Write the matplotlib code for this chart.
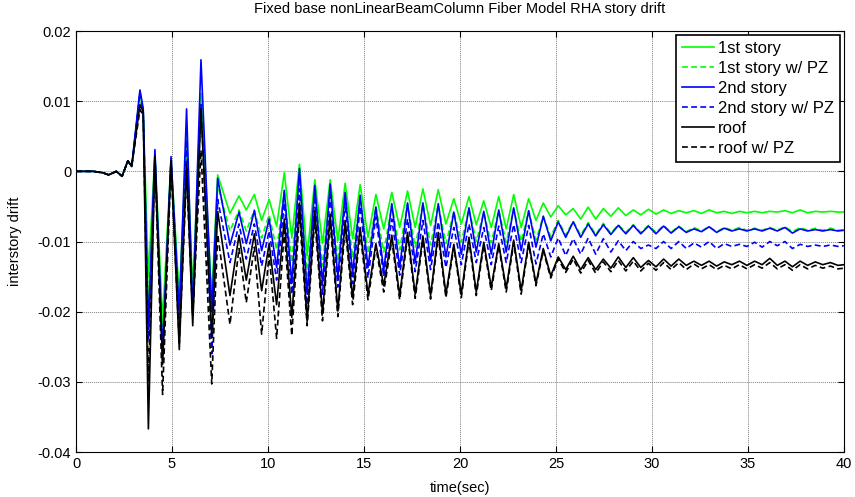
import matplotlib
matplotlib.use("Agg")
import matplotlib.pyplot as plt

plt.rcParams["font.family"] = ["Liberation Sans", "DejaVu Sans"]
plt.rcParams["axes.unicode_minus"] = False

# ---- time instants (s): irregular start, then alternating peak / trough ----
T_EARLY = [0, 0.9, 1.4, 1.7, 2.1, 2.4, 2.7, 2.9, 3.33, 3.5, 3.77, 4.11,
           4.51, 4.95, 5.38, 5.76, 6.08, 6.51, 7.07]
T_PK = [7.38, 8.49, 9.29, 10.06, 10.85, 11.64, 12.44, 13.24, 14.02, 14.80,
        15.62, 16.45, 17.27, 18.07, 18.87, 19.68, 20.47, 21.24, 22.02, 22.80,
        23.58, 24.34, 25.12, 25.90, 26.68, 27.47, 28.25, 29.03, 29.82, 30.61,
        31.40, 32.19, 32.98, 33.77, 34.56, 35.35, 36.14, 36.93, 37.72, 38.51,
        39.30]
T_TR = [8.02, 8.87, 9.67, 10.45, 11.24, 12.04, 12.84, 13.64, 14.41, 15.21,
        16.03, 16.86, 17.67, 18.47, 19.27, 20.07, 20.85, 21.63, 22.41, 23.19,
        23.96, 24.73, 25.51, 26.29, 27.07, 27.86, 28.64, 29.42, 30.21, 31.00,
        31.79, 32.58, 33.37, 34.16, 34.95, 35.74, 36.53, 37.32, 38.11, 38.90,
        39.69]
T_END = 40.0

PRE = [0, 0, -0.0002, -0.0005, 0.0, -0.0007, 0.0015, 0.0007]

# ---- 1st story ----
S1_EARLY = PRE + [0.0111, 0.0085, -0.0150, 0.0025, -0.0213, 0.0018, -0.0180,
                  0.0050, -0.0170, 0.0111, -0.0180]
S1_PK = [-0.0005, -0.0035, -0.0033, -0.0040, -0.0002, 0.0010, -0.0012, -0.0012,
         -0.0017, -0.0019, -0.0033, -0.0030, -0.0028, -0.0025, -0.0026, -0.0039,
         -0.0036, -0.0042, -0.0036, -0.0033, -0.0039, -0.0045, -0.0049, -0.0053,
         -0.0051, -0.0053, -0.0052, -0.0055, -0.0054, -0.0055, -0.0056, -0.0056,
         -0.0055, -0.0057, -0.0057, -0.0057, -0.0057, -0.0056, -0.0055, -0.0057,
         -0.0057]
S1_TR = [-0.0060, -0.0055, -0.0070, -0.0078, -0.0095, -0.0120, -0.0103, -0.0099,
         -0.0096, -0.0094, -0.0082, -0.0080, -0.0080, -0.0077, -0.0075, -0.0075,
         -0.0076, -0.0080, -0.0082, -0.0080, -0.0070, -0.0065, -0.0062, -0.0068,
         -0.0068, -0.0064, -0.0063, -0.0062, -0.0061, -0.0060, -0.0059, -0.0060,
         -0.0059, -0.0060, -0.0059, -0.0059, -0.0058, -0.0059, -0.0059, -0.0058,
         -0.0058]
S1_END = -0.0058

# ---- 1st story w/ PZ ----
S1PZ_EARLY = PRE + [0.0105, 0.0080, -0.0190, 0.0020, -0.0230, 0.0015, -0.0190,
                    0.0040, -0.0180, 0.0090, -0.0210]
S1PZ_PK = [-0.0020, -0.0055, -0.0055, -0.0062, -0.0030, -0.0005, -0.0025, -0.0025,
           -0.0033, -0.0037, -0.0050, -0.0048, -0.0047, -0.0046, -0.0048, -0.0057,
           -0.0054, -0.0058, -0.0056, -0.0054, -0.0057, -0.0064, -0.0070, -0.0071,
           -0.0073, -0.0074, -0.0076, -0.0076, -0.0077, -0.0077, -0.0078, -0.0080,
           -0.0079, -0.0080, -0.0080, -0.0081, -0.0080, -0.0079, -0.0080, -0.0081,
           -0.0081]
S1PZ_TR = [-0.0085, -0.0085, -0.0095, -0.0112, -0.0130, -0.0148, -0.0135, -0.0128,
           -0.0123, -0.0117, -0.0115, -0.0112, -0.0108, -0.0105, -0.0103, -0.0101,
           -0.0100, -0.0102, -0.0101, -0.0100, -0.0098, -0.0093, -0.0091, -0.0091,
           -0.0090, -0.0088, -0.0087, -0.0087, -0.0087, -0.0087, -0.0086, -0.0085,
           -0.0086, -0.0084, -0.0084, -0.0084, -0.0084, -0.0086, -0.0084, -0.0084,
           -0.0084]
S1PZ_END = -0.0083

# ---- 2nd story ----
S2_EARLY = PRE + [0.0116, 0.0090, -0.0225, 0.0031, -0.0256, 0.0021, -0.0204,
                  0.0089, -0.0204, 0.0159, -0.0200]
S2_PK = [-0.0010, -0.0058, -0.0056, -0.0068, -0.0027, 0.0004, -0.0020, -0.0018,
         -0.0030, -0.0034, -0.0051, -0.0046, -0.0045, -0.0045, -0.0046, -0.0058,
         -0.0052, -0.0057, -0.0055, -0.0052, -0.0056, -0.0064, -0.0072, -0.0072,
         -0.0075, -0.0076, -0.0077, -0.0077, -0.0078, -0.0078, -0.0079, -0.0082,
         -0.0079, -0.0081, -0.0082, -0.0082, -0.0081, -0.0080, -0.0082, -0.0083,
         -0.0083]
S2_TR = [-0.0105, -0.0103, -0.0113, -0.0137, -0.0160, -0.0175, -0.0160, -0.0151,
         -0.0146, -0.0137, -0.0141, -0.0137, -0.0130, -0.0127, -0.0122, -0.0118,
         -0.0115, -0.0118, -0.0115, -0.0113, -0.0108, -0.0099, -0.0094, -0.0094,
         -0.0092, -0.0090, -0.0089, -0.0089, -0.0089, -0.0088, -0.0087, -0.0086,
         -0.0087, -0.0085, -0.0085, -0.0085, -0.0085, -0.0088, -0.0085, -0.0085,
         -0.0085]
S2_END = -0.0084

# ---- 2nd story w/ PZ ----
S2PZ_EARLY = PRE + [0.0112, 0.0085, -0.0240, 0.0022, -0.0270, 0.0016, -0.0215,
                    0.0045, -0.0205, 0.0095, -0.0260]
S2PZ_PK = [-0.0040, -0.0075, -0.0075, -0.0085, -0.0045, -0.0025, -0.0035, -0.0035,
           -0.0045, -0.0050, -0.0065, -0.0068, -0.0068, -0.0070, -0.0072, -0.0080,
           -0.0075, -0.0080, -0.0078, -0.0076, -0.0077, -0.0089, -0.0095, -0.0096,
           -0.0095, -0.0096, -0.0099, -0.0100, -0.0105, -0.0100, -0.0100, -0.0102,
           -0.0100, -0.0103, -0.0104, -0.0101, -0.0100, -0.0100, -0.0104, -0.0105,
           -0.0105]
S2PZ_TR = [-0.0130, -0.0125, -0.0135, -0.0155, -0.0175, -0.0190, -0.0175, -0.0165,
           -0.0160, -0.0152, -0.0150, -0.0148, -0.0143, -0.0140, -0.0137, -0.0133,
           -0.0130, -0.0133, -0.0130, -0.0130, -0.0132, -0.0122, -0.0120, -0.0118,
           -0.0118, -0.0115, -0.0113, -0.0110, -0.0110, -0.0110, -0.0110, -0.0108,
           -0.0110, -0.0107, -0.0107, -0.0108, -0.0106, -0.0110, -0.0107, -0.0107,
           -0.0107]
S2PZ_END = -0.0106

# ---- roof ----
RF_EARLY = PRE + [0.0095, 0.0085, -0.0367, 0.0022, -0.0275, 0.0015, -0.0254,
                  0.0010, -0.0220, 0.0090, -0.0237]
RF_PK = [-0.0057, -0.0091, -0.0089, -0.0103, -0.0068, -0.0045, -0.0056, -0.0061,
         -0.0070, -0.0080, -0.0103, -0.0091, -0.0087, -0.0092, -0.0087, -0.0104,
         -0.0094, -0.0101, -0.0103, -0.0098, -0.0101, -0.0110, -0.0122, -0.0121,
         -0.0123, -0.0125, -0.0122, -0.0123, -0.0127, -0.0125, -0.0125, -0.0128,
         -0.0128, -0.0129, -0.0128, -0.0128, -0.0124, -0.0128, -0.0128, -0.0129,
         -0.0130]
RF_TR = [-0.0177, -0.0155, -0.0170, -0.0190, -0.0208, -0.0214, -0.0203, -0.0199,
         -0.0180, -0.0175, -0.0163, -0.0177, -0.0175, -0.0177, -0.0175, -0.0175,
         -0.0172, -0.0165, -0.0167, -0.0170, -0.0160, -0.0149, -0.0140, -0.0140,
         -0.0140, -0.0138, -0.0137, -0.0137, -0.0136, -0.0135, -0.0134, -0.0134,
         -0.0135, -0.0133, -0.0134, -0.0133, -0.0134, -0.0136, -0.0134, -0.0133,
         -0.0134]
RF_END = -0.0133

# ---- roof w/ PZ ----
RFPZ_EARLY = PRE + [0.0088, 0.0080, -0.0300, 0.0015, -0.0318, 0.0010, -0.0245,
                    -0.0005, -0.0205, 0.0030, -0.0303]
RFPZ_PK = [-0.0090, -0.0110, -0.0108, -0.0118, -0.0085, -0.0060, -0.0068, -0.0073,
           -0.0080, -0.0088, -0.0108, -0.0098, -0.0093, -0.0098, -0.0093, -0.0108,
           -0.0099, -0.0105, -0.0106, -0.0102, -0.0104, -0.0113, -0.0125, -0.0125,
           -0.0127, -0.0129, -0.0127, -0.0128, -0.0131, -0.0130, -0.0130, -0.0132,
           -0.0133, -0.0134, -0.0133, -0.0133, -0.0130, -0.0133, -0.0133, -0.0134,
           -0.0135]
RFPZ_TR = [-0.0218, -0.0187, -0.0232, -0.0238, -0.0234, -0.0220, -0.0213, -0.0207,
           -0.0190, -0.0183, -0.0172, -0.0183, -0.0181, -0.0182, -0.0180, -0.0180,
           -0.0177, -0.0170, -0.0172, -0.0175, -0.0163, -0.0152, -0.0144, -0.0145,
           -0.0145, -0.0143, -0.0142, -0.0142, -0.0141, -0.0140, -0.0140, -0.0139,
           -0.0140, -0.0139, -0.0139, -0.0138, -0.0139, -0.0141, -0.0139, -0.0138,
           -0.0139]
RFPZ_END = -0.0138

X_TICKS = [0, 5, 10, 15, 20, 25, 30, 35, 40]
Y_TICKS = [-0.04, -0.03, -0.02, -0.01, 0, 0.01, 0.02]
Y_LABELS = ["-0.04", "-0.03", "-0.02", "-0.01", "0", "0.01", "0.02"]


def series(early, pk, tr, end):
    """early part + alternating peak/trough part + last sample"""
    t = list(T_EARLY)
    v = list(early)
    for i in range(len(T_PK)):
        t += [T_PK[i], T_TR[i]]
        v += [pk[i], tr[i]]
    return t + [T_END], v + [end]


fig = plt.figure(figsize=(8.55, 4.97), dpi=100)
ax = fig.add_axes([0.0889, 0.0905, 0.8981, 0.8471])

dash = (0, (3.5, 2))
lines = [
    (S1_EARLY, S1_PK, S1_TR, S1_END, "#00ff00", "-", "1st story"),
    (S1PZ_EARLY, S1PZ_PK, S1PZ_TR, S1PZ_END, "#00ff00", dash, "1st story w/ PZ"),
    (S2_EARLY, S2_PK, S2_TR, S2_END, "#0000ff", "-", "2nd story"),
    (S2PZ_EARLY, S2PZ_PK, S2PZ_TR, S2PZ_END, "#0000ff", dash, "2nd story w/ PZ"),
    (RF_EARLY, RF_PK, RF_TR, RF_END, "#000000", "-", "roof"),
    (RFPZ_EARLY, RFPZ_PK, RFPZ_TR, RFPZ_END, "#000000", dash, "roof w/ PZ"),
]
for early, pk, tr, end, c, ls, lab in lines:
    t, v = series(early, pk, tr, end)
    ax.plot(t, v, color=c, linestyle=ls, linewidth=1.2, label=lab)

ax.set_xlim(0, 40)
ax.set_ylim(-0.04, 0.02)
ax.set_xticks(X_TICKS)
ax.set_yticks(Y_TICKS)
ax.set_yticklabels(Y_LABELS)
ax.tick_params(direction="in", top=True, right=True, labelsize=10.5, length=4)
ax.grid(True, color="0.5", linestyle=(0, (1, 1)), linewidth=0.7)
for sp in ax.spines.values():
    sp.set_linewidth(0.8)

ax.set_xlabel("time(sec)", fontsize=10.5, labelpad=7)
ax.set_ylabel("interstory drift", fontsize=10.5, labelpad=11)
ax.set_title("Fixed base nonLinearBeamColumn Fiber Model RHA story drift",
             fontsize=10.5, pad=13)

leg = ax.legend(loc="upper right", fontsize=12, frameon=True, fancybox=False,
                framealpha=1, edgecolor="black", borderpad=0.35, labelspacing=0.3,
                handlelength=1.9, handletextpad=0.25, borderaxespad=0.25)
leg.get_frame().set_linewidth(1.2)

fig.savefig("out.png", dpi=100)
